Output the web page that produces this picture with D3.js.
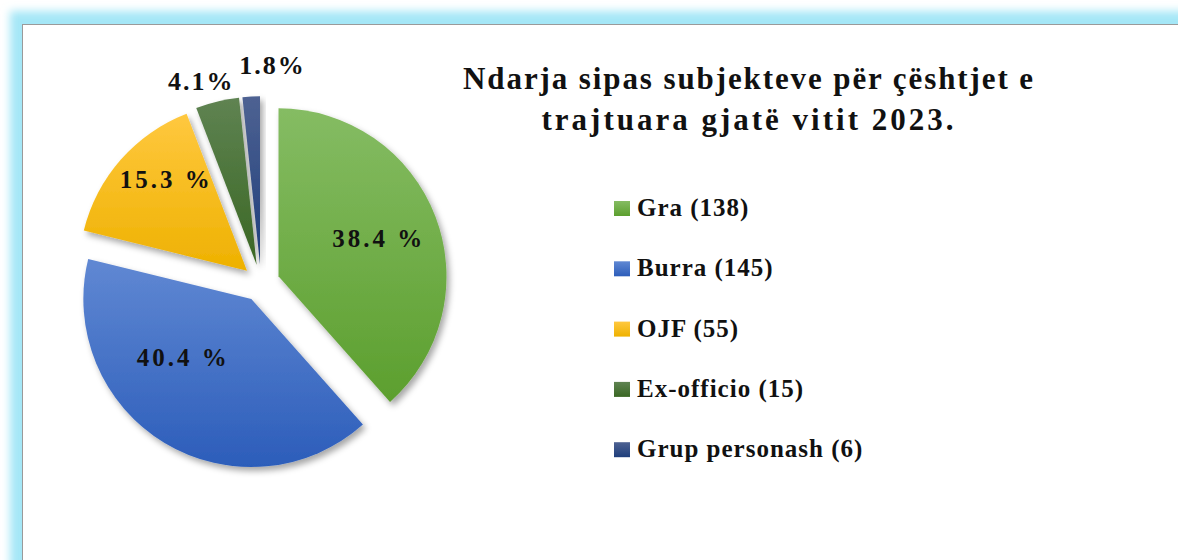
<!DOCTYPE html>
<html>
<head>
<meta charset="utf-8">
<script src="https://cdn.jsdelivr.net/npm/d3@7"></script>
<style>
  body { margin: 0; background: #fff; }
</style>
</head>
<body>
<div id="chart"></div>
<script>
// data
var categories = ['Gra', 'Burra', 'OJF', 'Ex-officio', 'Grup personash'];
var counts = [138, 145, 55, 15, 6];
var pctLabels = ['38.4 %', '40.4 %', '15.3 %', '4.1%', '1.8%'];
var titleLines = ['Ndarja sipas subjekteve për çështjet e', 'trajtuara gjatë vitit 2023.'];

// colours (top, bottom of the gradient)
var colTop = ['#85bc63', '#6088d3', '#ffc83f', '#5f8352', '#4e6292'];
var colBot = ['#5c9f2e', '#2c5dba', '#eeb100', '#3a6723', '#1e3e7b'];

var serif = 'Liberation Serif';

var svgWidth = 1178;
var svgHeight = 560;

var svg = d3.select('#chart')
    .append('svg')
    .attr('width', svgWidth)
    .attr('height', svgHeight);

var defs = svg.append('defs');

// glow behind the panel
var glow = defs.append('filter').attr('id', 'glow')
    .attr('x', '-10%').attr('y', '-10%').attr('width', '120%').attr('height', '120%');
glow.append('feGaussianBlur').attr('stdDeviation', 4);

var shadow = defs.append('filter').attr('id', 'shadow')
    .attr('x', '-20%').attr('y', '-20%').attr('width', '150%').attr('height', '150%');
shadow.append('feDropShadow')
    .attr('dx', 3).attr('dy', 4).attr('stdDeviation', 3)
    .attr('flood-color', '#000').attr('flood-opacity', 0.35);

categories.forEach(function (c, i) {
    var g = defs.append('linearGradient').attr('id', 'grad' + i)
        .attr('x1', 0).attr('y1', 0).attr('x2', 0).attr('y2', 1);
    g.append('stop').attr('offset', '0%').attr('stop-color', colTop[i]);
    g.append('stop').attr('offset', '100%').attr('stop-color', colBot[i]);
});

// panel with cyan glow
svg.append('rect')
    .attr('x', 10).attr('y', 11)
    .attr('width', 1200).attr('height', 600)
    .attr('fill', '#a5e7f7')
    .attr('filter', 'url(#glow)');

svg.append('rect')
    .attr('x', 22.5).attr('y', 24.5)
    .attr('width', 1200).attr('height', 600)
    .attr('fill', '#fff')
    .attr('stroke', '#9a9a9a')
    .attr('stroke-width', 1);

// pie
var cx = 261, cy = 283, radius = 168, explode = 18.7;

var pie = d3.pie().sort(null).value(d => d);
var arcs = pie(counts);

var arc = d3.arc().innerRadius(0).outerRadius(radius);

var pieGroup = svg.append('g')
    .attr('transform', `translate(${cx}, ${cy})`);

function midAngle(d) { return (d.startAngle + d.endAngle) / 2; }

pieGroup.selectAll('path')
    .data(arcs)
    .enter()
    .append('path')
    .attr('d', arc)
    .attr('fill', (d, i) => `url(#grad${i})`)
    .attr('filter', 'url(#shadow)')
    .attr('transform', function (d) {
        var a = midAngle(d);
        return `translate(${Math.sin(a) * explode}, ${-Math.cos(a) * explode})`;
    });

// label placement: [distance from centre, angle shift in degrees]
var labelPlace = [[126, 0], [108, 15], [140, 6], [210, -3], [218, 6]];

pieGroup.selectAll('text.pct')
    .data(arcs)
    .enter()
    .append('text')
    .attr('class', 'pct')
    .attr('x', function (d, i) {
        var a = midAngle(d) + labelPlace[i][1] * Math.PI / 180;
        return Math.sin(a) * labelPlace[i][0];
    })
    .attr('y', function (d, i) {
        var a = midAngle(d) + labelPlace[i][1] * Math.PI / 180;
        return -Math.cos(a) * labelPlace[i][0];
    })
    .attr('dy', '0.33em')
    .attr('text-anchor', 'middle')
    .attr('font-family', serif)
    .attr('font-weight', 'bold')
    .attr('font-size', (d, i) => i > 2 ? '26px' : '25px')
    .attr('letter-spacing', (d, i) => i > 2 ? '2px' : '3px')
    .attr('fill', '#111')
    .text((d, i) => pctLabels[i]);

// title
svg.selectAll('text.title')
    .data(titleLines)
    .enter()
    .append('text')
    .attr('class', 'title')
    .attr('x', 749)
    .attr('y', (d, i) => 89 + i * 41)
    .attr('text-anchor', 'middle')
    .attr('font-family', serif)
    .attr('font-weight', 'bold')
    .attr('font-size', '31px')
    .attr('letter-spacing', (d, i) => i === 0 ? '1.9px' : '3px')
    .attr('fill', '#111')
    .text(d => d);

// legend
var legend = svg.selectAll('g.legend')
    .data(categories)
    .enter()
    .append('g')
    .attr('class', 'legend')
    .attr('transform', (d, i) => `translate(614, ${201 + i * 60.3})`);

legend.append('rect')
    .attr('width', 16)
    .attr('height', 15)
    .attr('fill', (d, i) => `url(#grad${i})`);

legend.append('text')
    .attr('x', 23)
    .attr('y', 15)
    .attr('font-family', serif)
    .attr('font-weight', 'bold')
    .attr('font-size', '25px')
    .attr('letter-spacing', '1px')
    .attr('fill', '#111')
    .text((d, i) => `${d} (${counts[i]})`);
</script>
</body>
</html>
